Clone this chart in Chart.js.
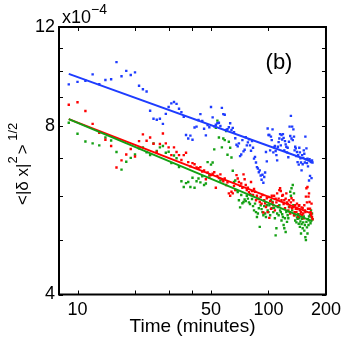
<!DOCTYPE html>
<html>
<head>
<meta charset="utf-8">
<script src="https://cdn.jsdelivr.net/npm/chart.js@4.4.1/dist/chart.umd.min.js"></script>
<style>
  html, body { margin: 0; padding: 0; background: #fff; }
  #wrap { position: relative; width: 346px; height: 339px; }
</style>
</head>
<body>
<div id="wrap"><canvas id="c"></canvas></div>
<script>
// ---- data (time in minutes, values in units of 1e-4) ----
const times = [9,10,11,12,13,14,15,16,17,18,19,20,21,22,23,24,25,26,27,28,29,30,31,32,33,34,35,36,37,38,39,40,41,42,43,44,45,46,47,48,49,50,51,52,53,54,55,56,57,58,59,60,61,62,63,64,65,66,67,68,69,70,71,72,73,74,75,76,77,78,79,80,81,82,83,84,85,86,87,88,89,90,91,92,93,94,95,96,97,98,99,100,101,102,103,104,105,106,107,108,109,110,111,112,113,114,115,116,117,118,119,120,121,122,123,124,125,126,127,128,129,130,131,132,133,134,135,136,137,138,139,140,141,142,143,144,145,146,147,148,149,150,151,152,153,154,155,156,157,158,159,160,161,162,163,164,165,166,167,168,169,170];

const blueVals = [
9.48,9.58,9.62,9.88,9.49,9.65,9.68,10.39,9.80,10.02,
9.85,9.96,9.43,9.29,9.21,8.51,8.23,8.20,8.23,8.06,
8.40,8.64,8.77,8.82,8.75,8.58,8.46,8.30,7.70,7.59,
7.68,7.55,7.94,7.97,8.19,8.39,8.16,7.90,7.69,8.02,
7.95,8.64,8.28,7.98,8.03,8.08,8.10,7.99,8.61,8.39,
8.37,7.86,7.89,7.95,8.08,7.86,7.93,7.79,7.60,7.40,
7.35,7.44,7.06,7.11,7.54,7.20,7.25,7.63,7.38,7.47,
7.57,7.38,7.22,7.51,7.31,6.99,7.04,6.88,6.75,6.71,
6.61,6.66,6.52,6.41,6.54,6.33,6.48,6.60,7.18,6.91,
7.91,7.70,7.70,7.23,7.65,7.54,7.88,7.17,7.32,7.36,
7.21,7.09,6.94,7.34,7.48,7.59,7.73,7.38,7.70,7.56,
7.73,7.61,7.23,7.51,7.41,7.34,7.17,7.31,7.03,7.49,
7.97,7.67,8.33,7.59,7.97,7.54,7.88,7.65,7.23,7.34,
7.29,7.06,7.18,6.89,7.09,6.82,7.31,7.17,7.00,6.88,
6.66,7.09,6.83,7.01,7.23,7.13,6.88,7.65,6.97,7.29,
6.86,6.99,6.77,6.94,6.39,6.97,6.51,6.91,6.89,6.45,
6.94,6.88];

const redVals = [
8.72,8.81,8.50,8.06,7.77,7.55,7.36,6.74,6.94,7.11,
7.27,7.05,7.51,7.72,7.52,7.62,7.43,7.18,7.42,7.75,
7.44,7.32,7.09,7.32,7.18,7.09,6.95,7.09,7.16,6.89,
6.77,6.86,6.83,6.74,6.72,6.75,6.63,6.66,6.42,6.60,
6.47,6.53,6.57,6.61,6.20,6.51,6.45,6.55,6.42,6.37,
6.44,6.27,6.34,6.06,6.00,6.10,6.06,6.25,6.14,6.53,
6.44,6.35,6.25,6.31,6.20,6.55,6.42,6.27,6.14,6.20,
6.09,6.04,6.35,6.12,6.02,6.17,6.10,5.89,6.00,5.93,
5.92,5.85,5.97,5.81,6.02,5.60,5.89,5.82,5.73,5.94,
5.61,5.97,5.48,5.87,5.69,6.00,5.83,5.77,6.00,5.65,
5.93,5.84,6.06,5.75,5.93,6.14,6.19,6.12,5.89,6.00,
6.02,5.80,5.89,5.70,5.93,6.06,5.84,5.80,5.65,5.89,
5.73,5.58,5.84,5.94,5.70,5.73,5.89,5.54,5.61,5.77,
5.69,5.61,5.81,5.68,5.51,5.76,5.77,5.65,5.56,5.61,
5.72,5.54,5.70,5.58,5.47,5.77,5.65,5.61,5.98,6.19,
5.84,6.22,5.69,5.98,6.06,5.85,5.69,5.61,5.54,5.81,
5.50,5.45];

const greenVals = [
8.10,7.74,7.50,7.44,7.38,7.62,7.53,7.18,6.68,6.90,
7.01,7.11,7.29,7.32,7.17,7.09,7.44,7.21,7.32,7.36,
7.16,7.19,6.86,7.08,7.00,6.75,6.37,6.22,6.32,6.35,
6.22,6.46,6.20,6.37,6.44,6.34,6.50,6.27,6.31,6.89,
6.53,6.82,6.88,7.26,7.93,8.17,7.62,6.39,7.32,7.59,
7.54,7.83,7.10,7.49,7.31,7.02,6.65,6.35,6.39,6.14,
6.09,5.89,5.72,6.02,5.82,5.85,5.91,5.87,6.00,5.93,
5.84,5.80,6.02,5.92,5.75,5.65,5.81,5.61,5.50,5.58,
5.70,5.28,5.77,5.68,5.61,5.54,5.75,5.58,5.50,5.77,
5.65,5.61,5.77,5.54,5.89,5.70,5.85,5.61,5.71,5.47,
5.10,5.25,5.58,5.73,5.54,5.77,5.65,5.61,5.42,5.56,
5.50,5.32,5.25,5.47,5.17,5.61,5.39,5.54,5.47,5.73,
5.61,6.10,6.00,6.19,5.65,6.27,5.77,6.06,5.54,5.42,
5.61,5.38,5.49,5.46,5.56,5.35,5.47,5.28,5.40,5.14,
5.34,5.46,5.25,5.38,5.51,5.20,5.32,5.06,5.00,5.39,
5.27,5.14,5.45,5.32,5.51,5.42,5.54,5.36,5.65,5.50,
5.58,5.45];

// fitted power-law lines (end points)
const fitTimes = [9, 170];
const blueFit = [9.90, 6.90];
const redFit = [8.22, 5.57];
const greenFit = [8.22, 5.40];

// ticks
const xTickLabels = [10, 50, 100, 200];
const yTickLabels = [4, 8, 12];
const xTickMarks = [10, 20, 30, 40, 50, 100, 200];
const yTickMarks = [4, 5, 6, 7, 8, 9, 10, 11, 12];

const BLUE = 'rgb(30,60,255)';
const RED = 'rgb(255,0,0)';
const GREEN = 'rgb(20,160,20)';

function pts(xs, ys) { return xs.map((x, i) => ({ x: x, y: ys[i] })); }

const FONT = "'Liberation Sans', Arial, Helvetica, sans-serif";
Chart.defaults.font.family = FONT;
Chart.defaults.color = '#000';

const decor = {
  id: 'decor',
  afterDraw(chart) {
    const ctx = chart.ctx;
    const a = chart.chartArea;
    const xs = chart.scales.x, ys = chart.scales.y;
    ctx.save();
    // frame
    ctx.strokeStyle = '#000';
    ctx.lineWidth = 2;
    ctx.strokeRect(a.left, a.top, a.right - a.left, a.bottom - a.top);
    // inner tick marks
    ctx.lineWidth = 1;
    ctx.beginPath();
    xTickMarks.forEach(v => {
      const p = Math.round(xs.getPixelForValue(v)) + 0.5;
      ctx.moveTo(p, a.bottom); ctx.lineTo(p, a.bottom - 4);
      ctx.moveTo(p, a.top); ctx.lineTo(p, a.top + 4);
    });
    yTickMarks.forEach(v => {
      const p = Math.round(ys.getPixelForValue(v)) + 0.5;
      ctx.moveTo(a.left, p); ctx.lineTo(a.left + 4, p);
      ctx.moveTo(a.right, p); ctx.lineTo(a.right - 4, p);
    });
    ctx.stroke();

    ctx.fillStyle = '#000';
    ctx.textBaseline = 'alphabetic';
    // exponent label
    ctx.textAlign = 'left';
    ctx.font = '18px ' + FONT;
    ctx.fillText('x10', 62, 23);
    const w = ctx.measureText('x10').width;
    ctx.font = '14px ' + FONT;
    ctx.fillText('\u22124', 62 + w, 14);
    // panel label
    ctx.textAlign = 'center';
    ctx.font = '22px ' + FONT;
    ctx.fillText('(b)', 279, 69);
    // x title
    ctx.font = '19px ' + FONT;
    ctx.fillText('Time (minutes)', (a.left + a.right) / 2, 332);

    // y title (rotated), with superscripts
    ctx.save();
    ctx.translate(28, 205);
    ctx.rotate(-Math.PI / 2);
    ctx.textAlign = 'left';
    let x = 0;
    const parts = [
      { t: '<|\u03B4 x|', s: 17, dy: 0 },
      { t: '2', s: 13, dy: -11 },
      { t: '>', s: 17, dy: 0 },
      { t: ' 1/2', s: 13, dy: -11 }
    ];
    parts.forEach(p => {
      ctx.font = p.s + 'px ' + FONT;
      ctx.fillText(p.t, x, p.dy);
      x += ctx.measureText(p.t).width + (p.t === '2' ? 2 : 0);
    });
    ctx.restore();
    ctx.restore();
  }
};

const scatterDs = (label, vals, color) => ({
  type: 'scatter', label: label, data: pts(times, vals),
  backgroundColor: color, borderColor: color, pointStyle: 'rect',
  pointRadius: 1.7, pointBorderWidth: 0, order: 2
});
const lineDs = (label, vals, color, order) => ({
  type: 'line', label: label, data: pts(fitTimes, vals),
  borderColor: color, backgroundColor: color, borderWidth: 2,
  pointRadius: 0, fill: false, tension: 0, order: order
});

new Chart(document.getElementById('c'), {
  type: 'scatter',
  data: {
    datasets: [
      lineDs('blue fit', blueFit, BLUE, 0),
      lineDs('green fit', greenFit, GREEN, 0),
      lineDs('red fit', redFit, RED, 1),
      scatterDs('blue', blueVals, BLUE),
      scatterDs('red', redVals, RED),
      scatterDs('green', greenVals, GREEN)
    ]
  },
  options: {
    responsive: true,
    maintainAspectRatio: false,
    animation: false,
    events: [],
    layout: { padding: { top: 27, right: 19.5, left: 0, bottom: 0 } },
    plugins: { legend: { display: false }, tooltip: { enabled: false } },
    scales: {
      x: {
        type: 'logarithmic', min: 8, max: 200, position: 'bottom',
        grid: { display: false, drawTicks: false },
        border: { display: false },
        afterBuildTicks: s => { s.ticks = xTickLabels.map(v => ({ value: v })); },
        afterFit: s => { s.height = 44.5; },
        ticks: {
          autoSkip: false, maxRotation: 0, padding: 5,
          font: { size: 18 }, color: '#000',
          callback: v => String(v)
        }
      },
      y: {
        type: 'logarithmic', min: 4, max: 12, position: 'left',
        grid: { display: false, drawTicks: false },
        border: { display: false },
        afterBuildTicks: s => { s.ticks = yTickLabels.map(v => ({ value: v })); },
        afterFit: s => { s.width = 59; },
        ticks: {
          autoSkip: false, padding: 4,
          font: { size: 18 }, color: '#000',
          callback: v => String(v)
        }
      }
    }
  },
  plugins: [decor]
});
</script>
</body>
</html>
